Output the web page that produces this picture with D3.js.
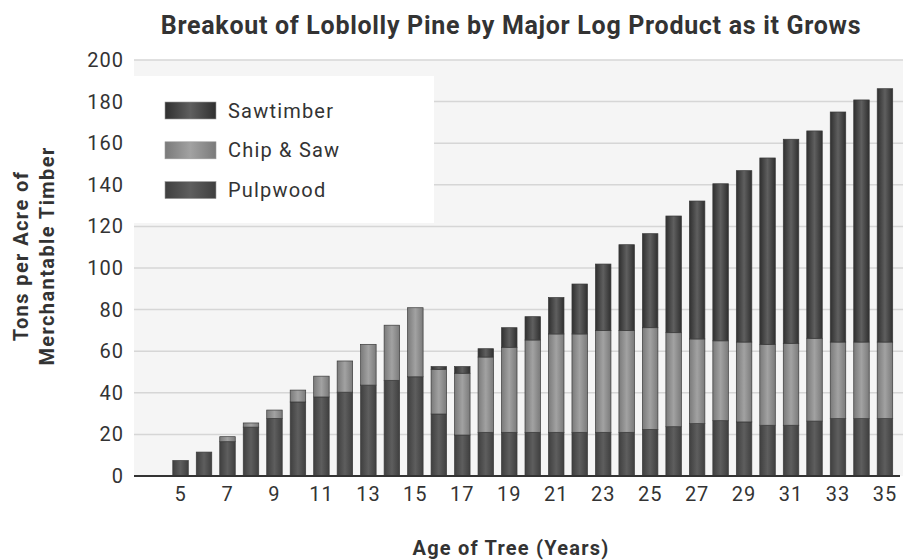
<!DOCTYPE html>
<html>
<head>
<meta charset="utf-8">
<script src="https://cdn.jsdelivr.net/npm/d3@7"></script>
<style>
  body { margin: 0; background: #fff; }
  text { font-family: Roboto, "Noto Sans", sans-serif; fill: #333; }
</style>
</head>
<body>
<script>
// ages on the x axis
const ages = d3.range(5, 36);
// tons per acre of each product, one value per age
const pulpwood = [7.4, 11.5, 16.5, 23.5, 27.7, 35.6, 38, 40.3, 43.7, 46, 47.7,
  29.8, 19.7, 21, 21, 21, 21, 21, 21, 21, 22.4, 23.7, 25.2, 26.6, 26, 24.4,
  24.4, 26.4, 27.6, 27.6, 27.6];
const chipSaw = [0, 0, 2.4, 2, 4, 5.7, 10, 15, 19.6, 26.5, 33.2,
  21.5, 29.7, 36.2, 40.9, 44.4, 47.3, 47.3, 48.9, 48.9, 48.9, 45.2, 40.7, 38.4,
  38.4, 38.9, 39.4, 39.8, 36.8, 36.8, 36.8];
const sawtimber = [0, 0, 0, 0, 0, 0, 0, 0, 0, 0, 0,
  1.3, 3.2, 4, 9.4, 11.2, 17.5, 24, 32, 41.3, 45.2, 56.1, 66.3, 75.5, 82.4,
  89.6, 98.1, 99.7, 110.6, 116.4, 121.8];
const seriesNames = ["Sawtimber", "Chip & Saw", "Pulpwood"];
const yTicks = d3.range(0, 201, 20);
const xTickLabels = ages.filter(a => a % 2 === 1);

let width = 903, height = 560;
let plot = {left: 134, right: 903, top: 60, bottom: 476};

let svg = d3.select("body").append("svg")
    .attr("width", width)
    .attr("height", height);

// gradients for the shaded bars
let shades = {
  "Sawtimber": ["#2f2f2f", "#5f5f5f"],
  "Chip & Saw": ["#7a7a7a", "#a2a2a2"],
  "Pulpwood": ["#3f3f3f", "#5e5e5e"]
};
let defs = svg.append("defs");
seriesNames.forEach(function(name, i) {
  let g = defs.append("linearGradient")
      .attr("id", "grad" + i)
      .attr("x1", 0).attr("x2", 1).attr("y1", 0).attr("y2", 0);
  g.append("stop").attr("offset", "0%").attr("stop-color", shades[name][0]);
  g.append("stop").attr("offset", "50%").attr("stop-color", shades[name][1]);
  g.append("stop").attr("offset", "100%").attr("stop-color", shades[name][0]);
});
let fillOf = name => "url(#grad" + seriesNames.indexOf(name) + ")";

// scales
let x = d3.scaleBand()
    .domain(ages)
    .range([168.8, 896.7])
    .paddingInner(0.34)
    .paddingOuter(0.17);
let y = d3.scaleLinear().domain([0, 200]).range([plot.bottom, plot.top]);

// plot background
svg.append("rect")
    .attr("x", plot.left).attr("y", plot.top)
    .attr("width", plot.right - plot.left).attr("height", plot.bottom - plot.top)
    .attr("fill", "#f5f5f5");

// gridlines
svg.append("g")
  .selectAll("line")
  .data(yTicks.filter(d => d > 0))
  .join("line")
    .attr("x1", plot.left).attr("x2", plot.right)
    .attr("y1", d => y(d)).attr("y2", d => y(d))
    .attr("stroke", "#d6d6d6")
    .attr("stroke-width", 1.5);

// legend box (sits over the gridlines)
let legend = svg.append("g");
legend.append("rect")
    .attr("x", 134).attr("y", 76)
    .attr("width", 300).attr("height", 147)
    .attr("fill", "#fff");
seriesNames.forEach(function(name, i) {
  let cy = 110.5 + i * 39.8;
  legend.append("rect")
      .attr("x", 165).attr("y", cy - 8.5)
      .attr("width", 51).attr("height", 17)
      .attr("fill", fillOf(name))
      .attr("stroke", "#999").attr("stroke-width", 0.6);
  legend.append("text")
      .attr("x", 228).attr("y", cy)
      .attr("dy", "0.35em")
      .style("font-size", "20px")
      .style("letter-spacing", "1.2px")
      .text(name);
});

// stacked bars
let rows = ages.map(function(a, i) {
  return {age: a, "Pulpwood": pulpwood[i], "Chip & Saw": chipSaw[i], "Sawtimber": sawtimber[i]};
});
let stack = d3.stack().keys(["Pulpwood", "Chip & Saw", "Sawtimber"]);
svg.append("g")
  .selectAll("g")
  .data(stack(rows))
  .join("g")
    .attr("fill", d => fillOf(d.key))
  .selectAll("rect")
  .data(d => d.filter(s => s[1] - s[0] > 0))
  .join("rect")
    .attr("x", d => x(d.data.age))
    .attr("width", x.bandwidth())
    .attr("y", d => y(d[1]))
    .attr("height", d => y(d[0]) - y(d[1]))
    .attr("stroke", "#3a3a3a")
    .attr("stroke-width", 0.7);

// baseline
svg.append("line")
    .attr("x1", plot.left).attr("x2", plot.right - 3)
    .attr("y1", plot.bottom).attr("y2", plot.bottom)
    .attr("stroke", "#333")
    .attr("stroke-width", 2);

// y axis
let yAxis = svg.append("g")
    .attr("transform", "translate(" + plot.left + ",0)")
    .call(d3.axisLeft(y).tickValues(yTicks).tickSize(0).tickPadding(10));
yAxis.select(".domain").remove();
yAxis.selectAll("text")
    .style("font-size", "20px")
    .style("letter-spacing", "1px")
    .style("font-family", "Roboto, sans-serif")
    .attr("fill", "#444");

// x axis
let xAxis = svg.append("g")
    .attr("transform", "translate(0," + plot.bottom + ")")
    .call(d3.axisBottom(x).tickValues(xTickLabels).tickSize(0).tickPadding(11));
xAxis.select(".domain").remove();
xAxis.selectAll("text")
    .style("font-size", "20px")
    .style("letter-spacing", "1px")
    .style("font-family", "Roboto, sans-serif")
    .attr("fill", "#444");

// title
svg.append("text")
    .attr("x", 511).attr("y", 34)
    .attr("text-anchor", "middle")
    .style("font-size", "25px")
    .style("letter-spacing", "0.7px")
    .style("font-weight", "bold")
    .text("Breakout of Loblolly Pine by Major Log Product as it Grows");

// axis titles
svg.append("text")
    .attr("x", 511).attr("y", 555)
    .attr("text-anchor", "middle")
    .style("font-size", "20px")
    .style("letter-spacing", "1.2px")
    .style("font-weight", "bold")
    .text("Age of Tree (Years)");

let yTitle = svg.append("text")
    .attr("transform", "translate(28,256) rotate(-90)")
    .attr("text-anchor", "middle")
    .style("font-size", "20px")
    .style("letter-spacing", "1.4px")
    .style("font-weight", "bold");
yTitle.append("tspan").attr("x", 0).attr("dy", 0).text("Tons per Acre of");
yTitle.append("tspan").attr("x", 0).attr("dy", 26).text("Merchantable Timber");
</script>
</body>
</html>
